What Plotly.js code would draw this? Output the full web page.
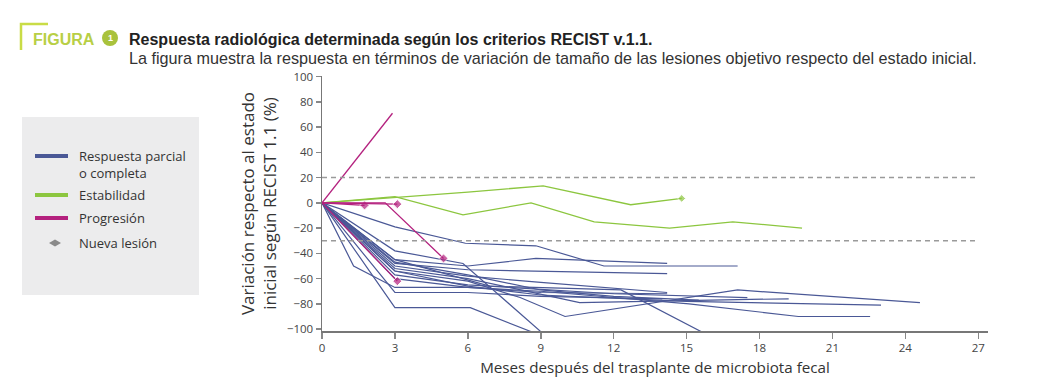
<!DOCTYPE html>
<html>
<head>
<meta charset="utf-8">
<script src="https://cdn.plot.ly/plotly-3.0.1.min.js"></script>
<style>html,body{margin:0;padding:0;background:#fff;}#chart{width:1042px;height:382px;}</style>
</head>
<body>
<div id="chart"></div>
<script>
// ---- Data ----
const xTickVals = [0, 3, 6, 9, 12, 15, 18, 21, 24, 27];
const yTickVals = [-100, -80, -60, -40, -20, 0, 20, 40, 60, 80, 100];
const umbralProgresion = 20;
const umbralRespuesta = -30;

// Respuesta parcial o completa (blue)
const respuestaMeses = [
  [0, 3, 5.9, 8.8, 11.6, 17.1],
  [0, 3, 5.8, 9.0],
  [0, 3, 6, 8.8, 14.2],
  [0, 3, 6, 14.2],
  [0, 3, 6, 9, 14.2],
  [0, 3, 6, 8.15, 10, 17.1, 24.6],
  [0, 3, 6, 12, 17.5],
  [0, 3, 6, 10.6, 16, 19.2],
  [0, 3, 6, 9, 15, 23],
  [0, 3, 6, 9, 15.1, 19.6, 22.55],
  [0, 3, 6.9, 12.3, 15.6],
  [0, 1.3, 3, 6, 9, 14.2],
  [0, 3, 6.1, 8.6],
  [0, 3, 6, 9, 14],
  [0, 3, 6, 9, 12, 15.5]
];
const respuestaVariacion = [
  [0, -19, -32, -34, -50, -50],
  [0, -38, -48, -102],
  [0, -45, -50, -44, -48],
  [0, -48, -53, -56],
  [0, -50, -58, -63, -71],
  [0, -54, -62, -75, -90, -69, -79],
  [0, -57, -65, -72, -75],
  [0, -52, -60, -79, -77, -76],
  [0, -54, -66, -73, -78, -81],
  [0, -60, -67, -70, -80, -90, -90],
  [0, -45, -66, -69, -102],
  [0, -50, -67, -67, -71, -72],
  [0, -83, -83, -102],
  [0, -71, -71, -74, -76],
  [0, -47, -57, -69, -74, -77]
];

// Estabilidad (green)
const estabilidadMeses = [
  [0, 3, 5.8, 8.6, 11.2, 14.3, 16.9, 19.75],
  [0, 6, 9.1, 12.7, 14.8]
];
const estabilidadVariacion = [
  [0, 5, -9.5, 0, -15, -20, -15, -20],
  [0, 8.5, 13.5, -1.5, 3.5]
];
const estabilidadNuevaLesion = [false, true];

// Progresión (magenta)
const progresionMeses = [
  [0, 2.9],
  [0, 1.75],
  [0, 3.1],
  [0, 2.6, 5.0],
  [0, 3.1]
];
const progresionVariacion = [
  [0, 71],
  [0, -2],
  [0, -1],
  [0, 0, -44],
  [0, -62]
];
const progresionNuevaLesion = [false, true, true, true, true];

const legendLabels = ['Respuesta parcial<br>o completa', 'Estabilidad', 'Progresión', 'Nueva lesión'];

// ---- Styles ----
const cBlue = '#4a5896';
const cGreen = '#8cc63f';
const cPink = '#b4217e';
const cGray = '#8a8a8a';

function makeTraces(xs, ys, flags, color, width, msize) {
  return xs.map((x, i) => {
    const y = ys[i];
    const hasMark = flags ? flags[i] : false;
    return {
      type: 'scatter',
      mode: hasMark ? 'lines+markers' : 'lines',
      x: x, y: y,
      line: {color: color, width: width},
      marker: {symbol: 'diamond', color: color,
               size: x.map((_, j) => (hasMark && j === x.length - 1) ? msize : 0)},
      hoverinfo: 'skip',
      showlegend: false
    };
  });
}

const traces = []
  .concat(makeTraces(respuestaMeses, respuestaVariacion, null, cBlue, 1.2, 0))
  .concat(makeTraces(estabilidadMeses, estabilidadVariacion, estabilidadNuevaLesion, cGreen, 1.3, 6))
  .concat(makeTraces(progresionMeses, progresionVariacion, progresionNuevaLesion, cPink, 1.3, 7));

// pixel -> paper helpers (plot area: x 322..988, y 76..331)
const L = 322, R = 988, T = 76, B = 331;
const px = v => (v - L) / (R - L);
const py = v => (B - v) / (B - T);

const shapes = [
  {type: 'line', xref: 'x', yref: 'y', x0: 0, x1: 27, y0: umbralProgresion, y1: umbralProgresion,
   line: {color: '#9a9a9a', width: 1.5, dash: '5px,4px'}},
  {type: 'line', xref: 'x', yref: 'y', x0: 0, x1: 27, y0: umbralRespuesta, y1: umbralRespuesta,
   line: {color: '#9a9a9a', width: 1.5, dash: '5px,4px'}},
  // legend box
  {type: 'rect', xref: 'paper', yref: 'paper', x0: px(22), x1: px(199), y0: py(295), y1: py(117),
   fillcolor: '#ececed', line: {width: 0}, layer: 'below'},
  {type: 'line', xref: 'paper', yref: 'paper', x0: px(35), x1: px(68), y0: py(156), y1: py(156),
   line: {color: cBlue, width: 4}},
  {type: 'line', xref: 'paper', yref: 'paper', x0: px(35), x1: px(68), y0: py(195), y1: py(195),
   line: {color: cGreen, width: 4}},
  {type: 'line', xref: 'paper', yref: 'paper', x0: px(35), x1: px(68), y0: py(218), y1: py(218),
   line: {color: cPink, width: 4}},
  {type: 'path', xref: 'paper', yref: 'paper',
   path: `M ${px(49)} ${py(243)} L ${px(55)} ${py(239.5)} L ${px(61)} ${py(243)} L ${px(55)} ${py(246.5)} Z`,
   fillcolor: cGray, line: {width: 0}},
  // header bracket
  {type: 'path', xref: 'paper', yref: 'paper',
   path: `M ${px(21)} ${py(50)} L ${px(21)} ${py(24)} L ${px(48)} ${py(24)}`,
   line: {color: '#c9dc46', width: 2.5}},
  // number circle
  {type: 'circle', xref: 'paper', yref: 'paper', x0: px(102), x1: px(118), y0: py(46), y1: py(30),
   fillcolor: '#a9c23c', line: {width: 0}}
];

const legFont = {family: 'Open Sans', size: 13, color: '#333'};
const annotations = [
  {xref: 'paper', yref: 'paper', x: px(31), y: py(39), xanchor: 'left', yanchor: 'middle', showarrow: false,
   text: '<b>FIGURA</b>', font: {family: 'Liberation Sans', size: 16, color: '#b8cf45'}},
  {xref: 'paper', yref: 'paper', x: px(110), y: py(38), xanchor: 'center', yanchor: 'middle', showarrow: false,
   text: '<b>1</b>', font: {family: 'Liberation Sans', size: 9, color: '#fff'}},
  {xref: 'paper', yref: 'paper', x: px(127), y: py(58), xanchor: 'left', yanchor: 'middle', showarrow: false,
   text: 'La figura muestra la respuesta en términos de variación de tamaño de las lesiones objetivo respecto del estado inicial.',
   font: {family: 'Liberation Sans', size: 16.2, color: '#333'}},
  {xref: 'paper', yref: 'paper', x: px(77), y: py(164.5), xanchor: 'left', yanchor: 'middle', align: 'left', showarrow: false,
   text: legendLabels[0], font: legFont},
  {xref: 'paper', yref: 'paper', x: px(77), y: py(195), xanchor: 'left', yanchor: 'middle', showarrow: false,
   text: legendLabels[1], font: legFont},
  {xref: 'paper', yref: 'paper', x: px(77), y: py(218), xanchor: 'left', yanchor: 'middle', showarrow: false,
   text: legendLabels[2], font: legFont},
  {xref: 'paper', yref: 'paper', x: px(77), y: py(243), xanchor: 'left', yanchor: 'middle', showarrow: false,
   text: legendLabels[3], font: legFont}
];

const layout = {
  width: 1042, height: 382,
  margin: {l: L, r: 1042 - R, t: T, b: 382 - B, pad: 0},
  paper_bgcolor: '#fff', plot_bgcolor: '#fff',
  font: {family: 'Open Sans', color: '#444'},
  title: {text: '<b>Respuesta radiológica determinada según los criterios RECIST v.1.1.</b>',
          x: 129 / 1042, xanchor: 'left', xref: 'container',
          y: 1 - 39 / 382, yanchor: 'middle', yref: 'container',
          font: {family: 'Liberation Sans', size: 16, color: '#222'}},
  xaxis: {range: [0, 27.4], tickvals: xTickVals, ticks: 'outside', ticklen: 6, tickwidth: 1.5, tickcolor: '#888',
          showline: true, linecolor: '#777', linewidth: 1.5, showgrid: false, zeroline: false,
          tickfont: {size: 11.5, color: '#444'},
          title: {text: 'Meses después del trasplante de microbiota fecal', font: {size: 15.2, color: '#333'}, standoff: 8}},
  yaxis: {range: [-101.5, 100.5], tickvals: yTickVals, ticks: 'outside', ticklen: 5, tickwidth: 1.5, tickcolor: '#888',
          showline: true, linecolor: '#777', linewidth: 1.5, showgrid: false, zeroline: false,
          tickfont: {size: 11.5, color: '#444'},
          title: {text: 'Variación respecto al estado<br>inicial según RECIST 1.1 (%)', font: {size: 17, color: '#333'}, standoff: 6}},
  shapes: shapes,
  annotations: annotations,
  showlegend: false
};

Plotly.newPlot('chart', traces, layout, {displayModeBar: false, staticPlot: true});
</script>
</body>
</html>
